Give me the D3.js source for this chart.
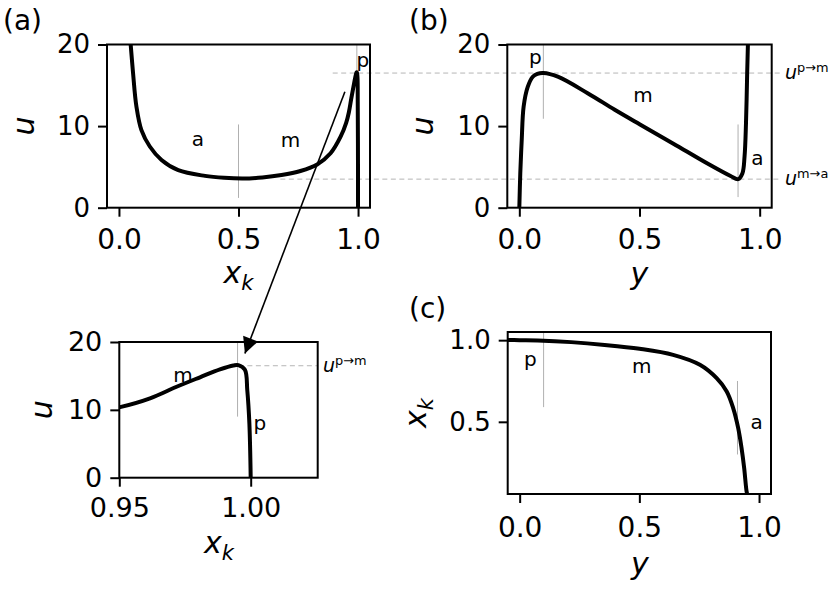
<!DOCTYPE html>
<html><head><meta charset="utf-8">
<script src="https://cdn.jsdelivr.net/npm/d3@7"></script>
<style>
body{margin:0;background:#fff;}
svg{display:block;font-family:"DejaVu Sans",sans-serif;}
</style></head>
<body><svg id="fig" width="830" height="604"></svg>
<script>
// ---------- data ----------
// panel (a) and inset: u versus x_k
const xkA = [0.049, 0.059, 0.073, 0.094, 0.129, 0.178, 0.248, 0.36, 0.44, 0.52, 0.6, 0.68, 0.759, 0.829, 0.885, 0.927, 0.9503, 0.9617, 0.9718, 0.9807, 0.9883, 0.9934, 0.9953, 0.9978, 0.9987, 0.9995, 1.0];
const uA  = [20, 16.5, 12.4, 9.5, 7.5, 5.85, 4.6, 3.9, 3.66, 3.57, 3.7, 4.0, 4.5, 5.3, 6.67, 8.7, 10.4, 11.7, 13.4, 14.8, 15.97, 16.55, 16.6, 15.9, 12.9, 8.0, 0];
// panel (b): u versus y
const yB = [0, 0.004, 0.01, 0.018, 0.035, 0.056, 0.075, 0.1, 0.16, 0.286, 0.397, 0.502, 0.641, 0.781, 0.879, 0.91, 0.928, 0.937, 0.943, 0.948, 0.951];
const uB = [0, 4.2, 8.3, 12.4, 14.8, 16.05, 16.4, 16.5, 16.05, 14.0, 12.0, 10.2, 7.85, 5.44, 3.88, 3.5, 4.2, 6.25, 10.3, 16.5, 20];
// panel (c): x_k versus y
const yC  = [-0.06, 0.0, 0.075, 0.215, 0.355, 0.501, 0.641, 0.753, 0.823, 0.865, 0.892, 0.913, 0.927, 0.938, 0.948, 0.952];
const xkC = [1.002, 1.0, 0.998, 0.988, 0.971, 0.947, 0.91, 0.849, 0.767, 0.686, 0.584, 0.461, 0.339, 0.216, 0.074, 0.05];
// transition levels
const uPM = 16.5, uMA = 3.5;
const yPM = 0.1, yMA = 0.91, xkPM = 0.995, xkMA = 0.5;
// ticks
const ticksU = [0, 10, 20];
const ticksY = [0, 0.5, 1.0], ticksYLabels = ["0.0", "0.5", "1.0"];
const ticksXkMain = [0, 0.5, 1.0], ticksXkMainLabels = ["0.0", "0.5", "1.0"];
const ticksXkInset = [0.95, 1.0], ticksXkInsetLabels = ["0.95", "1.00"];
const ticksXkC = [0.5, 1.0], ticksXkCLabels = ["0.5", "1.0"];

// ---------- layout ----------
const svg = d3.select("#fig");
const XTICKF = 28, YTICKF = 26, LABF = 30, ANNF = 20;
const panels = {
  a:  {l:107, r:370, t:44.5, b:207.7, xd:[-0.05,1.05], yd:[0,20]},
  b:  {l:507.3, r:771.7, t:44.5, b:207.7, xd:[-0.05,1.05], yd:[0,20]},
  i:  {l:119.3, r:317.7, t:342, b:477.7, xd:[0.95,1.0255], yd:[0,20]},
  c:  {l:507.7, r:771, t:332, b:494, xd:[-0.05,1.05], yd:[0.058,1.05]}
};
for (const k in panels) {
  const p = panels[k];
  p.x = d3.scaleLinear().domain(p.xd).range([p.l, p.r]);
  p.y = d3.scaleLinear().domain(p.yd).range([p.b, p.t]);
}
const defs = svg.append("defs");
for (const k in panels) {
  const p = panels[k];
  defs.append("clipPath").attr("id","clip"+k).append("rect")
    .attr("x",p.l).attr("y",p.t).attr("width",p.r-p.l).attr("height",p.b-p.t);
}
defs.append("marker").attr("id","ah").attr("viewBox","0 0 10 10").attr("refX",10).attr("refY",5)
  .attr("markerWidth",22).attr("markerHeight",16).attr("markerUnits","userSpaceOnUse").attr("orient","auto")
  .append("path").attr("d","M0,0L10,5L0,10Z").attr("fill","#000");

// dashed reference lines
const gDash = svg.append("g").attr("stroke","#b5b5b5").attr("stroke-width",1).attr("stroke-dasharray","5,3.5").attr("fill","none");
gDash.append("line").attr("x1",panels.a.x(0.894)).attr("x2",panels.b.x(1.088)).attr("y1",panels.a.y(uPM)).attr("y2",panels.a.y(uPM));
gDash.append("line").attr("x1",panels.a.x(0.675)).attr("x2",panels.b.x(1.088)).attr("y1",panels.a.y(uMA)).attr("y2",panels.a.y(uMA));
gDash.append("line").attr("x1",panels.i.x(0.9955)).attr("x2",panels.i.x(1.0255)).attr("y1",panels.i.y(uPM)).attr("y2",panels.i.y(uPM));

function supLabel(x, y, sup, size) {
  const t = svg.append("text").attr("x",x).attr("y",y).attr("font-size",size).attr("fill","#000");
  t.append("tspan").attr("font-style","italic").text("u");
  t.append("tspan").attr("font-size",size*0.68).attr("dy",-size*0.38).text(sup);
}
supLabel(785, panels.b.y(uPM)+6, "p\u2192m", 19);
supLabel(785, panels.b.y(uMA)+6, "m\u2192a", 19);
supLabel(323, panels.i.y(uPM)+6, "p\u2192m", 19);

// gray transition markers
function vseg(key, x, y0, y1) {
  const p = panels[key];
  svg.append("line").attr("x1",p.x(x)).attr("x2",p.x(x)).attr("y1",p.y(y0)).attr("y2",p.y(y1))
    .attr("stroke","#b0b0b0").attr("stroke-width",1).attr("clip-path","url(#clip"+key+")");
}
vseg("a", xkMA, 1.2, 10.2);
vseg("a", xkPM, 9, 20);
vseg("b", yPM, 10.9, 20);
vseg("b", yMA, 1.3, 10.2);
vseg("i", xkPM, 9, 20);
vseg("c", yPM, 0.59, 1.05);
vseg("c", yMA, 0.30, 0.75);

// curves
function curve(key, xs, ys) {
  const p = panels[key];
  const pts = xs.map((v,i)=>[v, ys[i]]);
  svg.append("path").datum(pts)
    .attr("d", d3.line().x(d=>p.x(d[0])).y(d=>p.y(d[1])).curve(d3.curveCatmullRom.alpha(0.5)))
    .attr("fill","none").attr("stroke","#000").attr("stroke-width",4).attr("stroke-linejoin","round")
    .attr("clip-path","url(#clip"+key+")");
}
curve("a", xkA, uA);
curve("i", xkA, uA);
curve("b", yB, uB);
curve("c", yC, xkC);

// axes
function axes(key, xt, xl, yt, yl, xpad) {
  const p = panels[key];
  const gx = svg.append("g").attr("transform",`translate(0,${p.b})`)
    .call(d3.axisBottom(p.x).tickValues(xt).tickFormat((d,i)=>xl[i]).tickSize(9).tickPadding(xpad).tickSizeOuter(0));
  const gy = svg.append("g").attr("transform",`translate(${p.l},0)`)
    .call(d3.axisLeft(p.y).tickValues(yt).tickFormat((d,i)=>yl[i]).tickSize(9).tickPadding(8).tickSizeOuter(0));
  [gx,gy].forEach(g=>{
    g.select(".domain").remove();
    g.selectAll("line").attr("stroke","#000").attr("stroke-width",2);
    g.selectAll("text").attr("font-family","DejaVu Sans").attr("fill","#000");
  });
  gx.selectAll("text").attr("font-size",key==="i"?27:XTICKF);
  gy.selectAll("text").attr("font-size",key==="i"?27:YTICKF);
  svg.append("rect").attr("x",p.l).attr("y",p.t).attr("width",p.r-p.l).attr("height",p.b-p.t)
    .attr("fill","none").attr("stroke","#000").attr("stroke-width",2);
}
axes("a", ticksXkMain, ticksXkMainLabels, ticksU, ticksU.map(String), 12);
axes("b", ticksY, ticksYLabels, ticksU, ticksU.map(String), 12);
axes("i", ticksXkInset, ticksXkInsetLabels, ticksU, ticksU.map(String), 11);
axes("c", ticksY, ticksYLabels, ticksXkC, ticksXkCLabels, 14);

// axis labels
function xkLabel(g) {
  g.append("tspan").attr("font-style","italic").text("x");
  g.append("tspan").attr("font-style","italic").attr("font-size",LABF*0.7).attr("dy",LABF*0.22).text("k");
}
function xlab(cx, by, kind) {
  const t = svg.append("text").attr("x",cx).attr("y",by).attr("text-anchor","middle").attr("font-size",LABF).attr("fill","#000");
  if (kind==="xk") xkLabel(t); else t.append("tspan").attr("font-style","italic").text(kind);
}
function ylab(cx, cy, kind) {
  const t = svg.append("text").attr("transform",`translate(${cx},${cy}) rotate(-90)`).attr("text-anchor","middle")
    .attr("dy","0.27em").attr("font-size",LABF).attr("fill","#000");
  if (kind==="xk") xkLabel(t); else t.append("tspan").attr("font-style","italic").text(kind);
}
xlab((panels.a.l+panels.a.r)/2, 283, "xk");
xlab((panels.b.l+panels.b.r)/2, 284, "y");
xlab(219, 553, "xk");
xlab(640, 574, "y");
ylab(26, (panels.a.t+panels.a.b)/2, "u");
ylab(425, (panels.b.t+panels.b.b)/2, "u");
ylab(44, (panels.i.t+panels.i.b)/2, "u");
ylab(418, (panels.c.t+panels.c.b)/2, "xk");

// panel letters
[["(a)",3,30],["(b)",409,30],["(c)",409,318]].forEach(([s,x,y])=>{
  svg.append("text").attr("x",x).attr("y",y).attr("font-size",28).attr("fill","#000").text(s);
});

// regime annotations
const ann = [
  ["a","a",0.33,7.56],["a","m",0.717,7.5],["a","p",1.02,17.2],
  ["b","p",0.067,17.6],["b","m",0.515,13.0],["b","a",0.99,5.2],
  ["i","m",0.9742,14.1],["i","p",1.0035,6.96],
  ["c","p",0.045,0.84],["c","m",0.51,0.796],["c","a",0.99,0.459]
];
ann.forEach(([k,s,x,y])=>{
  const p = panels[k];
  svg.append("text").attr("x",p.x(x)).attr("y",p.y(y)).attr("text-anchor","middle")
    .attr("font-size",ANNF).attr("fill","#000").text(s);
});

// zoom arrow from (a) to inset
svg.append("line")
  .attr("x1",panels.a.x(0.945)).attr("y1",panels.a.y(14.2))
  .attr("x2",panels.i.x(0.9978)).attr("y2",panels.i.y(18.3))
  .attr("stroke","#000").attr("stroke-width",1.6).attr("marker-end","url(#ah)");
</script></body></html>
